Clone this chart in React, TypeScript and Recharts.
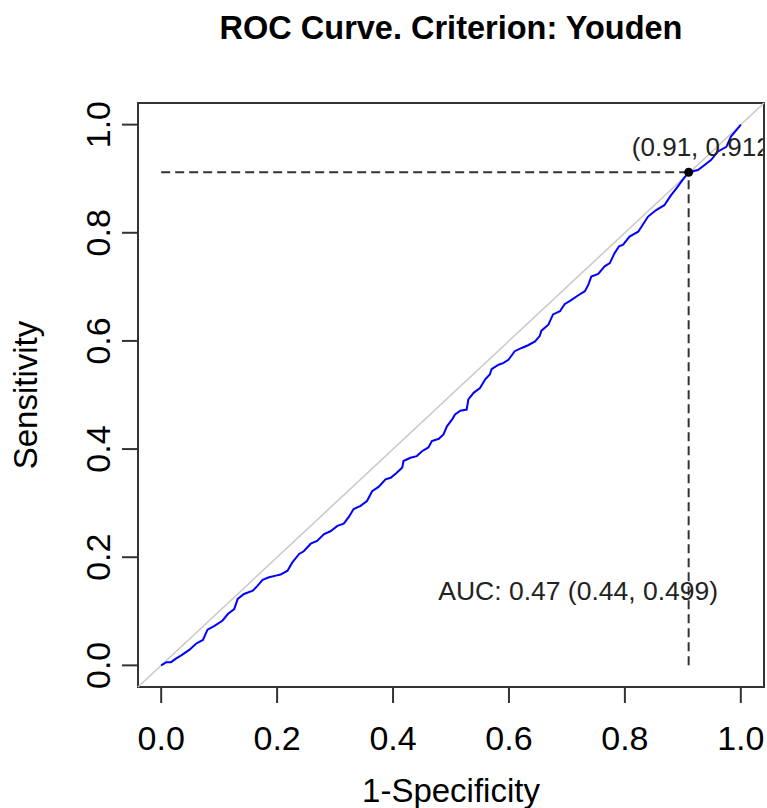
import { ComposedChart, Line, XAxis, YAxis, ReferenceLine, ReferenceDot, ReferenceArea, Label } from "recharts";

// ROC curve points (1-specificity, sensitivity)
const fpr = [
  0, 0.009, 0.017, 0.026, 0.034, 0.049, 0.06, 0.072, 0.08, 0.092, 0.106, 0.115, 0.126, 0.132, 0.143, 0.158,
  0.166, 0.175, 0.186, 0.198, 0.206, 0.218, 0.226, 0.238, 0.246, 0.258, 0.269, 0.281, 0.292, 0.304, 0.315,
  0.324, 0.332, 0.344, 0.355, 0.364, 0.375, 0.387, 0.396, 0.405, 0.416, 0.418, 0.43, 0.441, 0.45, 0.461,
  0.467, 0.479, 0.487, 0.493, 0.502, 0.507, 0.516, 0.527, 0.53, 0.539, 0.55, 0.559, 0.567, 0.57, 0.582,
  0.59, 0.599, 0.61, 0.622, 0.633, 0.645, 0.653, 0.656, 0.668, 0.676, 0.688, 0.696, 0.708, 0.719, 0.731,
  0.737, 0.742, 0.754, 0.765, 0.774, 0.782, 0.79, 0.797, 0.808, 0.823, 0.84, 0.854, 0.868, 0.88, 0.889,
  0.897, 0.91, 0.926, 0.937, 0.949, 0.96, 0.975, 0.983, 0.997, 1,
];
const tpr = [
  0, 0.006, 0.006, 0.013, 0.018, 0.029, 0.04, 0.047, 0.066, 0.073, 0.083, 0.095, 0.104, 0.123, 0.132, 0.138,
  0.147, 0.158, 0.163, 0.166, 0.168, 0.175, 0.19, 0.206, 0.211, 0.225, 0.23, 0.243, 0.248, 0.258, 0.262,
  0.275, 0.289, 0.295, 0.304, 0.322, 0.33, 0.344, 0.347, 0.355, 0.366, 0.378, 0.384, 0.387, 0.396, 0.403,
  0.415, 0.419, 0.427, 0.442, 0.455, 0.464, 0.471, 0.473, 0.492, 0.504, 0.513, 0.529, 0.538, 0.548, 0.556,
  0.559, 0.565, 0.581, 0.587, 0.592, 0.599, 0.609, 0.619, 0.63, 0.649, 0.655, 0.668, 0.676, 0.684, 0.692,
  0.704, 0.719, 0.724, 0.738, 0.744, 0.762, 0.775, 0.778, 0.793, 0.802, 0.83, 0.842, 0.851, 0.87, 0.882,
  0.894, 0.912, 0.916, 0.925, 0.935, 0.95, 0.959, 0.978, 0.996, 1,
];

const ticks = [0, 0.2, 0.4, 0.6, 0.8, 1];
const domain = [-0.04, 1.04];

const best = { fpr: 0.91, tpr: 0.912 };
const bestLabel = "(0.91, 0.912)";
const aucLabel = "AUC: 0.47 (0.44, 0.499)";

const FONT = "'Liberation Sans', Arial, sans-serif";

const XTick = ({ x, y, payload }: any) => (
  <text x={x} y={y + 47} textAnchor="middle" fontSize={34} fill="#000">
    {Number(payload.value).toFixed(1)}
  </text>
);

const YTick = ({ x, y, payload }: any) => (
  <text x={x - 12} y={y} transform={`rotate(-90 ${x - 12} ${y})`} textAnchor="middle" fontSize={34} fill="#000">
    {Number(payload.value).toFixed(1)}
  </text>
);

const App = () => {
  const data = fpr.map((x, i) => ({ fpr: x, tpr: tpr[i] }));

  return (
    <div style={{ position: "relative", width: 767, height: 808, fontFamily: FONT }}>
      <style>{"body{margin:0}"}</style>
      <div
        style={{
          position: "absolute",
          left: 138,
          width: 626,
          top: 12,
          textAlign: "center",
          fontSize: 32.5,
          lineHeight: "32px",
          fontWeight: "bold",
          color: "#000",
        }}
      >
        ROC Curve. Criterion: Youden
      </div>
      <ComposedChart width={767} height={808} data={data} margin={{ top: 103, right: 3, bottom: 0, left: 0 }}>
        <XAxis
          dataKey="fpr"
          type="number"
          domain={domain}
          ticks={ticks}
          allowDataOverflow
          height={121}
          axisLine={false}
          tickLine={{ stroke: "#333", strokeWidth: 2 }}
          tickSize={16}
          tickMargin={0}
          tick={<XTick />}
        >
          <Label
            content={({ viewBox }: any) => (
              <text x={viewBox.x + viewBox.width / 2} y={viewBox.y + viewBox.height - 6} textAnchor="middle" fontSize={33} fill="#000">
                1-Specificity
              </text>
            )}
          />
        </XAxis>
        <YAxis
          type="number"
          domain={domain}
          ticks={ticks}
          allowDataOverflow
          width={138}
          axisLine={false}
          tickLine={{ stroke: "#333", strokeWidth: 2 }}
          tickSize={16}
          tickMargin={0}
          tick={<YTick />}
        >
          <Label
            content={({ viewBox }: any) => {
              const lx = viewBox.x + 37;
              const ly = viewBox.y + viewBox.height / 2;
              return (
                <text x={lx} y={ly} transform={`rotate(-90 ${lx} ${ly})`} textAnchor="middle" fontSize={33} fill="#000">
                  Sensitivity
                </text>
              );
            }}
          />
        </YAxis>

        <ReferenceLine
          segment={[{ x: -0.04, y: -0.04 }, { x: 1.04, y: 1.04 }]}
          stroke="#c8c8c8"
          strokeWidth={1.5}
        />
        <Line
          dataKey="tpr"
          type="linear"
          stroke="#0000ff"
          strokeWidth={2}
          dot={false}
          isAnimationActive={false}
        />
        <ReferenceLine
          segment={[{ x: 0, y: best.tpr }, { x: best.fpr, y: best.tpr }]}
          stroke="#333"
          strokeWidth={2}
          strokeDasharray="9 5"
        />
        <ReferenceLine
          segment={[{ x: best.fpr, y: 0 }, { x: best.fpr, y: best.tpr }]}
          stroke="#333"
          strokeWidth={2}
          strokeDasharray="9 5"
        />
        <ReferenceDot x={best.fpr} y={best.tpr} r={4.5} fill="#000" stroke="none" />
        <ReferenceDot
          x={0.812}
          y={0.958}
          r={0}
          stroke="none"
          label={{
            content: ({ viewBox }: any) => (
              <g>
                <defs>
                  <clipPath id="thr-clip">
                    <rect x={viewBox.x - 5} y={viewBox.y - 30} width={136} height={60} />
                  </clipPath>
                </defs>
                <text x={viewBox.x} y={viewBox.y + 9} fontSize={26} fill="#222" clipPath="url(#thr-clip)">
                  {bestLabel}
                </text>
              </g>
            ),
          }}
        />
        <ReferenceDot
          x={0.478}
          y={0.137}
          r={0}
          stroke="none"
          label={{
            content: ({ viewBox }: any) => (
              <text x={viewBox.x} y={viewBox.y + 9} fontSize={26.5} fill="#222">
                {aucLabel}
              </text>
            ),
          }}
        />
        <ReferenceArea x1={-0.04} x2={1.04} y1={-0.04} y2={1.04} fill="none" stroke="#333" strokeWidth={2} />
      </ComposedChart>
    </div>
  );
};

export default App;
